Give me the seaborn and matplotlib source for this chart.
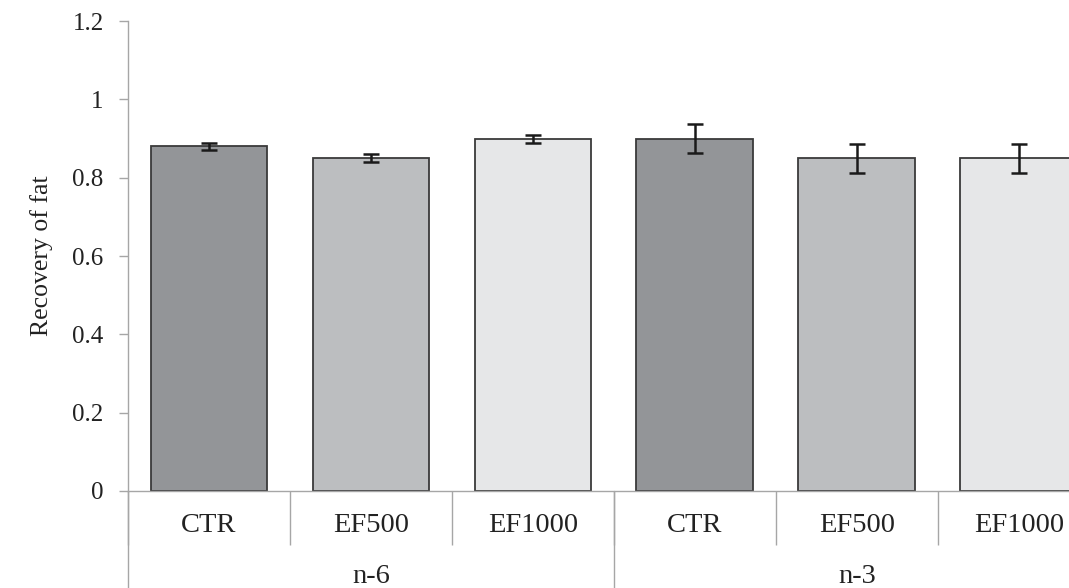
import numpy as np
import pandas as pd
import matplotlib
matplotlib.use("Agg")
import matplotlib.pyplot as plt
import matplotlib.transforms as mtransforms
import seaborn as sns

# Data
groups = ["n-6", "n-6", "n-6", "n-3", "n-3", "n-3"]
treatments = ["CTR", "EF500", "EF1000", "CTR", "EF500", "EF1000"]
recovery = [0.88, 0.85, 0.90, 0.90, 0.85, 0.85]
errors = [0.010, 0.010, 0.010, 0.037, 0.037, 0.037]
bar_colors = ["#939598", "#bcbec0", "#e6e7e8", "#939598", "#bcbec0", "#e6e7e8"]

df = pd.DataFrame({
    "key": [f"{g} {t}" for g, t in zip(groups, treatments)],
    "group": groups,
    "treatment": treatments,
    "recovery": recovery,
})

sns.set_theme(style="white")
plt.rcParams["font.family"] = ["Liberation Serif", "DejaVu Serif"]

fig = plt.figure(figsize=(10.69, 5.88), dpi=100)
ax = fig.add_axes([0.1197, 0.165, 0.909, 0.799])

sns.barplot(data=df, x="key", y="recovery", hue="key", palette=bar_colors,
            order=df["key"], width=0.72, errorbar=None, legend=False,
            edgecolor="#3a3a3a", linewidth=1.3, saturation=1, ax=ax)
ax.errorbar(np.arange(len(df)), df["recovery"], yerr=errors, fmt="none",
            ecolor="#1a1a1a", elinewidth=1.8, capsize=6, capthick=1.8)

ax.set_xlim(-0.5, len(df) - 0.5)
ax.set_ylim(0, 1.2)
ax.set_yticks([0, 0.2, 0.4, 0.6, 0.8, 1.0, 1.2])
ax.set_yticklabels(["0", "0.2", "0.4", "0.6", "0.8", "1", "1.2"])
ax.set_ylabel("Recovery of fat", fontsize=18.5, color="#222222", labelpad=14)
ax.set_xlabel("")

# category labels at bar centres, separators at the boundaries
ax.set_xticks(np.arange(len(df)))
ax.set_xticklabels(df["treatment"])
ax.set_xticks(np.arange(len(df) + 1) - 0.5, minor=True)
ax.tick_params(axis="x", which="major", bottom=True, length=0, pad=16,
               labelsize=20.5, labelcolor="#222222")
ax.tick_params(axis="x", which="minor", bottom=True, length=39, width=1,
               color="#a6a6a6", direction="out")
ax.tick_params(axis="y", left=True, length=6.5, width=1, color="#a6a6a6", direction="out",
               labelsize=18, labelcolor="#222222", pad=11)

for side in ["top", "right"]:
    ax.spines[side].set_visible(False)
for side in ["left", "bottom"]:
    ax.spines[side].set_color("#a6a6a6")
    ax.spines[side].set_linewidth(1)

# group separators and labels
trans = mtransforms.blended_transform_factory(ax.transData, ax.transAxes)
for xb in [-0.5, 2.5, 5.5]:
    ax.plot([xb, xb], [0, -0.21], transform=trans, color="#a6a6a6", lw=1, clip_on=False)
for i, g in enumerate(["n-6", "n-3"]):
    ax.text(3 * i + 1, -0.183, g, transform=trans, ha="center", va="center",
            fontsize=20.5, color="#222222")

fig.savefig("out.png", dpi=100)
